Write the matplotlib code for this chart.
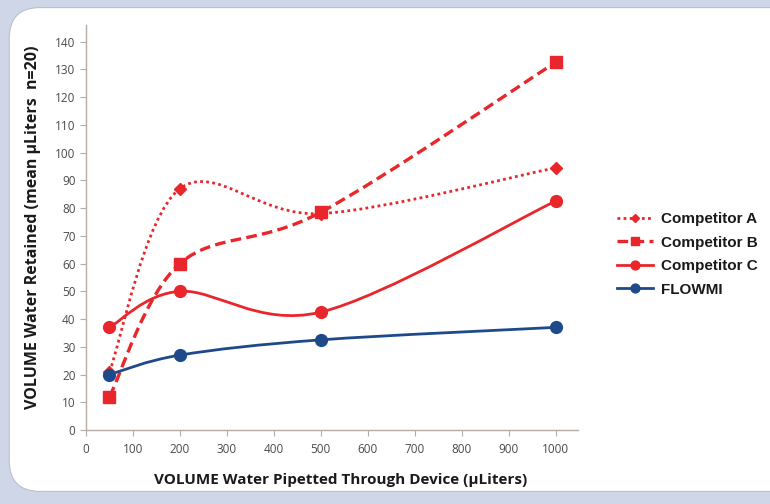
import numpy as np
import matplotlib.pyplot as plt
from matplotlib.path import Path
from matplotlib.patches import PathPatch, FancyBboxPatch
from matplotlib.lines import Line2D

# volumes pipetted (uL)
volumes = [50, 200, 500, 1000]

# mean retained volume (uL), n=20
comp_a = [21, 87, 78, 94.5]
comp_b = [12, 60, 78.5, 132.5]
comp_c = [37, 50, 42.5, 82.5]
flowmi = [20, 27, 32.5, 37]

series_names = ["Competitor A", "Competitor B", "Competitor C", "FLOWMI"]

RED = "#e8262b"
NAVY = "#1f4a8a"
AXIS_COL = "#b5aca6"
TICK_COL = "#4a4a4a"


def smooth_path(xs, ys):
    """Excel style smoothed line: cubic bezier segments through every point."""
    pts = np.column_stack([xs, ys]).astype(float)
    n = len(pts)
    verts = [pts[0]]
    codes = [Path.MOVETO]
    for i in range(n - 1):
        p0 = pts[i - 1] if i > 0 else pts[i]
        p1 = pts[i]
        p2 = pts[i + 1]
        p3 = pts[i + 2] if i + 2 < n else pts[i + 1]
        c1 = p1 + (p2 - p0) / 6.0
        c2 = p2 - (p3 - p1) / 6.0
        verts += [c1, c2, p2]
        codes += [Path.CURVE4] * 3
    return Path(verts, codes)


fig = plt.figure(figsize=(7.7, 5.04), dpi=100, facecolor="#cfd6e7")

# white rounded panel behind everything
panel = FancyBboxPatch((0.012, 0.025), 1.05, 0.96,
                       boxstyle="round,pad=0,rounding_size=0.04",
                       transform=fig.transFigure, facecolor="white",
                       edgecolor="#b9c0cf", linewidth=0.8,
                       mutation_aspect=770 / 504, zorder=-10)
fig.patches.append(panel)

ax = fig.add_axes([0.1117, 0.1468, 0.639, 0.8036])
ax.set_facecolor("none")
ax.set_zorder(1)

styles = [
    dict(data=comp_a, color=RED, ls=(0, (1, 1.2)), lw=2.0, marker="D", ms=6),
    dict(data=comp_b, color=RED, ls=(0, (3.2, 1.6)), lw=2.4, marker="s", ms=8),
    dict(data=comp_c, color=RED, ls="-", lw=2.0, marker="o", ms=8.5),
    dict(data=flowmi, color=NAVY, ls="-", lw=2.0, marker="o", ms=8.5),
]

handles = []
for name, st in zip(series_names, styles):
    patch = PathPatch(smooth_path(volumes, st["data"]), fill=False,
                      edgecolor=st["color"], linewidth=st["lw"],
                      linestyle=st["ls"], capstyle="butt", zorder=2)
    ax.add_patch(patch)
    ax.plot(volumes, st["data"], linestyle="none", marker=st["marker"],
            markersize=st["ms"], color=st["color"], zorder=3)
    handles.append(Line2D([], [], color=st["color"], linestyle=st["ls"],
                          linewidth=st["lw"], marker=st["marker"],
                          markersize=st["ms"] * 0.75, label=name))

ax.set_xlim(0, 1048)
ax.set_ylim(0, 146)
ax.set_xticks(range(0, 1001, 100))
ax.set_yticks(range(0, 141, 10))

for side in ["top", "right"]:
    ax.spines[side].set_visible(False)
for side in ["left", "bottom"]:
    ax.spines[side].set_color(AXIS_COL)
    ax.spines[side].set_linewidth(1.0)

ax.tick_params(axis="both", colors=AXIS_COL, labelcolor=TICK_COL,
               labelsize=8.5, length=4, width=0.8, direction="out")
ax.tick_params(axis="x", pad=5)
for lab in ax.get_xticklabels() + ax.get_yticklabels():
    lab.set_family("Open Sans")

ax.set_xlabel("VOLUME Water Pipetted Through Device (µLiters)",
              fontsize=11, fontweight="bold", family="Open Sans",
              color="#1a1a1a", labelpad=12)
ax.xaxis.set_label_coords(0.518, -0.105)
ax.set_ylabel("VOLUME Water Retained (mean µLiters  n=20)",
              fontsize=11.5, fontweight="bold", family="Open Sans",
              color="#1a1a1a", labelpad=10)

leg = fig.legend(handles=handles, loc="center left",
                 bbox_to_anchor=(0.783, 0.495), frameon=False,
                 prop=dict(family="Liberation Sans", weight="bold", size=11),
                 handlelength=2.4, handletextpad=0.5, labelspacing=0.62)
for txt in leg.get_texts():
    txt.set_color("#1a1a1a")

fig.savefig("out.png", dpi=100, facecolor=fig.get_facecolor())
